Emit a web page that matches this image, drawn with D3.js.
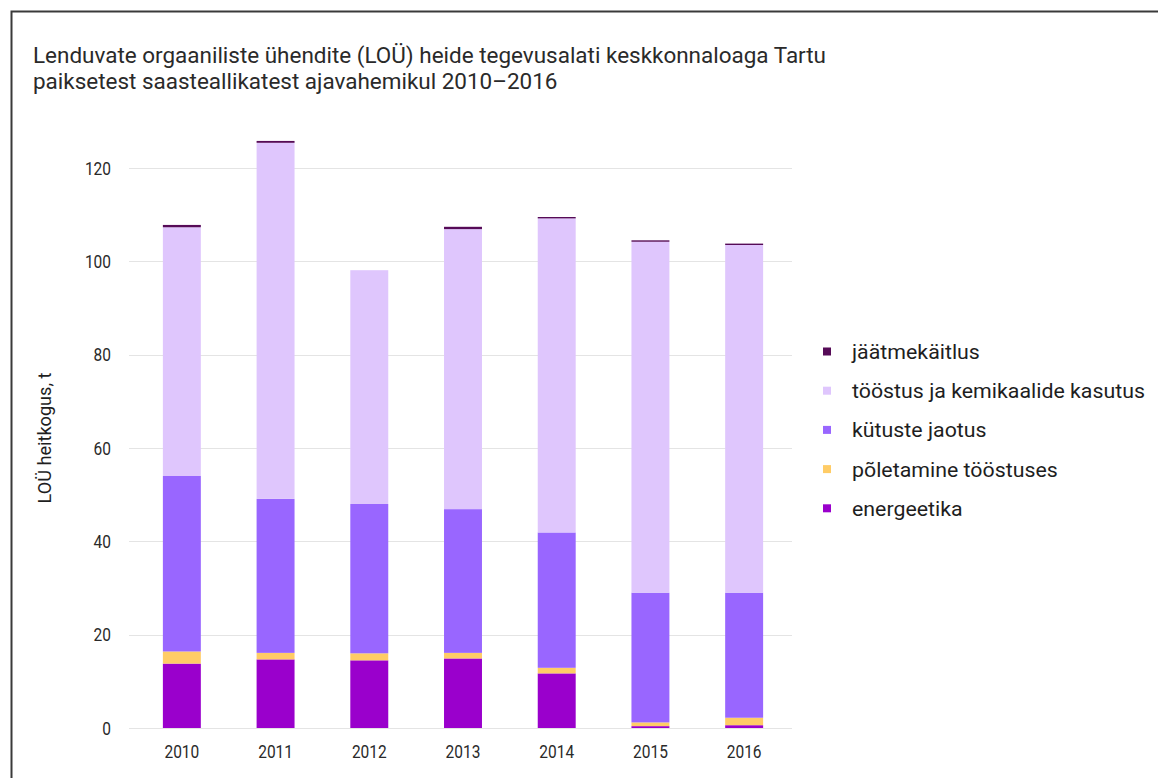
<!DOCTYPE html>
<html>
<head>
<meta charset="utf-8">
<script src="https://cdn.jsdelivr.net/npm/d3@7"></script>
<style>
  html, body { margin: 0; padding: 0; background: #fff; }
  svg { display: block; font-family: Roboto, "Noto Sans", sans-serif; }
</style>
</head>
<body>
<svg id="chart" width="1158" height="778"></svg>
<script>
// VOC emissions (t) by activity, Tartu point sources with environmental permit
const years = ["2010", "2011", "2012", "2013", "2014", "2015", "2016"];
const energeetika = [13.8, 14.7, 14.5, 14.9, 11.7, 0.4, 0.6];
const poletamine  = [2.6, 1.4, 1.5, 1.2, 1.2, 0.8, 1.6];
const kytuste     = [37.6, 33.0, 32.0, 30.8, 29.0, 27.8, 26.8];
const toostus     = [53.3, 76.3, 50.1, 60.0, 67.3, 75.2, 74.5];
const jaatme      = [0.5, 0.4, 0.0, 0.5, 0.3, 0.3, 0.3];
const seriesNames = ["energeetika", "põletamine tööstuses", "kütuste jaotus",
                     "tööstus ja kemikaalide kasutus", "jäätmekäitlus"];
const seriesColors = ["#9a00cc", "#ffcc66", "#9966ff", "#dfc6fd", "#560b57"];
const yTicks = [0, 20, 40, 60, 80, 100, 120];
const titleLines = [
  "Lenduvate orgaaniliste ühendite (LOÜ) heide tegevusalati keskkonnaloaga Tartu",
  "paiksetest saasteallikatest ajavahemikul 2010–2016"
];
const yTitle = "LOÜ heitkogus, t";

const seriesValues = [energeetika, poletamine, kytuste, toostus, jaatme];
const rows = years.map((yr, i) => {
  const r = { year: yr };
  seriesNames.forEach((n, k) => { r[n] = seriesValues[k][i]; });
  return r;
});
const stacked = d3.stack().keys(seriesNames)(rows);

const svg = d3.select("#chart");
const W = 1158, H = 778;
svg.append("rect").attr("width", W).attr("height", H).attr("fill", "#fff");

// frame (left and top edges visible)
svg.append("path")
  .attr("d", `M11.5,${H} V11.5 H${W}`)
  .attr("fill", "none").attr("stroke", "#3a3a3a").attr("stroke-width", 2);

const plot = { left: 135, right: 791, top: 168, bottom: 728 };
const x = d3.scaleBand().domain(years)
  .range([plot.left, plot.right]).paddingInner(0.595).paddingOuter(0.2975);
const y = d3.scaleLinear().domain([0, 120]).range([plot.bottom, plot.top]);

// narrow glyph rendering: compress text horizontally
function squeeze(sel, ratio) {
  sel.each(function () {
    const len = this.getComputedTextLength();
    d3.select(this).attr("textLength", len * ratio).attr("lengthAdjust", "spacingAndGlyphs");
  });
}

// gridlines
svg.append("g").selectAll("line").data(yTicks).join("line")
  .attr("x1", 129).attr("x2", 792)
  .attr("y1", d => Math.round(y(d)) + 0.5).attr("y2", d => Math.round(y(d)) + 0.5)
  .attr("stroke", "#e4e4e4").attr("stroke-width", 1);

// y axis tick labels
const yAxis = d3.axisLeft(y).tickValues(yTicks).tickSize(0).tickPadding(0);
const gy = svg.append("g").attr("transform", "translate(111,0)").call(yAxis);
gy.select(".domain").remove();
gy.selectAll("text").attr("font-size", 18).attr("fill", "#2a2a2a")
  .attr("font-family", "Roboto, sans-serif").attr("dy", "0.35em")
  .call(s => squeeze(s, 0.86));

// x axis labels
const xAxis = d3.axisBottom(x).tickSize(0).tickPadding(0);
const gx = svg.append("g").attr("transform", `translate(0,${plot.bottom + 24})`).call(xAxis);
gx.select(".domain").remove();
gx.selectAll("text").attr("font-size", 18).attr("fill", "#2a2a2a")
  .attr("font-family", "Roboto, sans-serif").attr("dy", "0.35em")
  .call(s => squeeze(s, 0.86));

// stacked bars
svg.append("g").selectAll("g").data(stacked).join("g")
  .attr("fill", (d, i) => seriesColors[i])
  .selectAll("rect").data(d => d).join("rect")
  .attr("x", d => x(d.data.year))
  .attr("width", x.bandwidth())
  .attr("y", d => y(d[1]))
  .attr("height", d => Math.max(0, y(d[0]) - y(d[1])));

// title
const title = svg.append("g");
title.selectAll("text").data(titleLines).join("text")
  .attr("x", 33).attr("y", (d, i) => 63 + i * 26)
  .attr("font-size", 22).attr("fill", "#2a2a2a").text(d => d);
const firstLen = title.select("text").node().getComputedTextLength();
squeeze(title.selectAll("text"), 793 / firstLen);

// y axis title
const yt = svg.append("text")
  .attr("transform", "translate(51,438) rotate(-90)")
  .attr("text-anchor", "middle").attr("font-size", 19).attr("fill", "#1e1e1e")
  .text(yTitle);
yt.call(s => squeeze(s, 131 / yt.node().getComputedTextLength()));

// legend (top entry = top of stack)
const legendOrder = seriesNames.map((n, i) => i).reverse();
const lg = svg.append("g");
const items = lg.selectAll("g").data(legendOrder).join("g")
  .attr("transform", (d, i) => `translate(823,${352 + i * 39.2})`);
items.append("rect").attr("x", 0).attr("y", -4.5).attr("width", 8).attr("height", 8)
  .attr("fill", d => seriesColors[d]);
items.append("text").attr("x", 29).attr("dy", "0.35em")
  .attr("font-size", 20).attr("fill", "#1e1e1e").text(d => seriesNames[d]);
const longest = d3.max(items.selectAll("text").nodes(), n => n.getComputedTextLength());
squeeze(items.selectAll("text"), 293 / longest);
</script>
</body>
</html>
